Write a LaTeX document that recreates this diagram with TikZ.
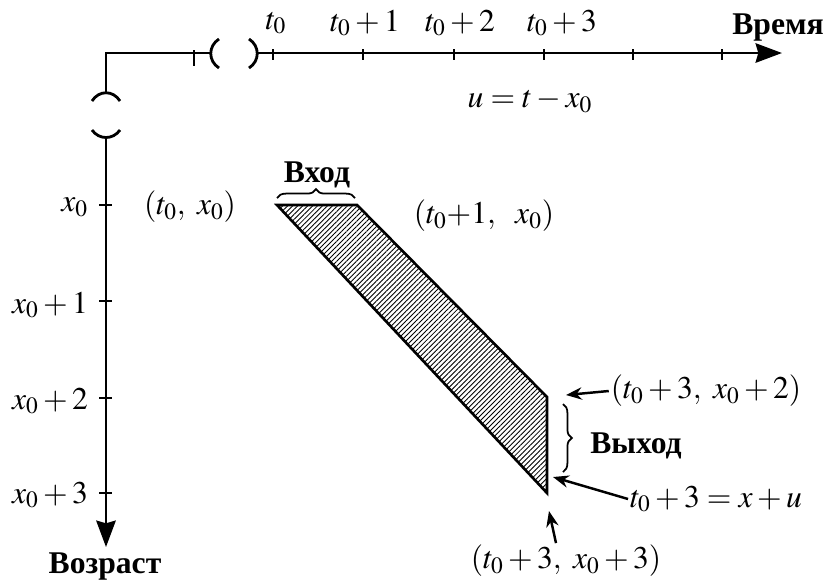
\documentclass[tikz,border=0pt]{standalone}
\usepackage{mathptmx}
\usepackage{fontspec}
\setmainfont{Liberation Serif}
\usetikzlibrary{arrows.meta,patterns.meta,decorations.pathreplacing}
\tikzset{
  axis/.style={line width=1.6pt,-{Stealth[length=15pt,width=11pt,inset=1.5pt]}},
  brk/.style={line width=1.6pt},
  tick/.style={line width=1.2pt},
  lbl/.style={inner sep=1pt},
  word/.style={lbl,font=\fontsize{18}{21}\selectfont\bfseries},
  note/.style={line width=1.4pt,-{Stealth[length=9pt,width=7pt]}},
  brc/.style={line width=1pt,decorate,decoration={brace,amplitude=5pt}},
  band/.style={line width=1.5pt,line join=miter,pattern={Lines[angle=45,distance=2pt,line width=0.5pt]}}
}
\begin{document}
\begin{tikzpicture}[x=0.02cm,y=-0.02cm,font=\fontsize{18}{21}\selectfont]
  \useasboundingbox (0,0) rectangle (825,583);
  % broken axes
  \coordinate (corner) at (106,53);
  \coordinate (tbrk) at (212,53);
  \coordinate (xbrk) at (106,93);
  \coordinate (tstart) at (257,53);
  \coordinate (tend) at (782,53);
  \coordinate (xstart) at (106,136);
  \coordinate (xend) at (106,547);
  \draw[brk] (xbrk) -- (corner) -- (tbrk);
  \draw[tick] (194,50) -- (194,66);
  \draw[brk] (219,39) .. controls (208,46) and (208,61) .. (219,68);
  \draw[brk] (249,39) .. controls (260,46) and (260,61) .. (249,68);
  \draw[brk] (92,101) .. controls (99,90) and (113,90) .. (120,101);
  \draw[brk] (92,130) .. controls (99,140) and (113,140) .. (120,130);
  \draw[axis] (tstart) -- (tend);
  \draw[axis] (xstart) -- (xend);
  \foreach \tx in {273,363,454,544,633,722}
    \draw[tick] (\tx,49) -- (\tx,60);
  \foreach \ay in {205,301,398,493}
    \draw[tick] (99,\ay) -- (112,\ay);
  % axis labels
  \node[lbl] (t0) at (276,23) {$t_0$};
  \node[lbl] (t1) at (365,23) {$t_0+1$};
  \node[lbl] (t2) at (460,23) {$t_0+2$};
  \node[lbl] (t3) at (562,23) {$t_0+3$};
  \node[word] (time) at (778,28) {Время};
  \node[lbl,anchor=east] (x0) at (90,207) {$x_0$};
  \node[lbl,anchor=east] (x1) at (90,305) {$x_0+1$};
  \node[lbl,anchor=east] (x2) at (90,401) {$x_0+2$};
  \node[lbl,anchor=east] (x3) at (90,495) {$x_0+3$};
  \node[word] (age) at (105,566) {Возраст};
  \node[lbl] (ueq) at (530,101) {$u=t-x_0$};
  % cohort band
  \coordinate (p1) at (277,205);
  \coordinate (p2) at (357,205);
  \coordinate (p3) at (547,397);
  \coordinate (p4) at (547,493);
  \draw[band] (p1) -- (p2) -- (p3) -- (p4) -- cycle;
  \draw[brc] (277,198) -- (355,198);
  \node[word] (in) at (317,175) {Вход};
  \draw[brc] (563,404) -- (563,472);
  \node[word] (out) at (636,446) {Выход};
  \node[lbl] (pa) at (190,207) {$(t_0,\ x_0)$};
  \node[lbl] (pb) at (484,216) {$(t_0{+}1,\ \ x_0)$};
  % annotations
  \coordinate (tipb) at (566,395);
  \coordinate (tipd) at (553,477);
  \coordinate (tipe) at (549,511);
  \node[lbl] (pc) at (706,391) {$(t_0+3,\ x_0+2)$};
  \node[lbl] (eq) at (716,499) {$t_0+3=x+u$};
  \node[lbl] (pd) at (566,561) {$(t_0+3,\ x_0+3)$};
  \draw[note] (pc.west) -- (tipb);
  \draw[note] (eq.west) -- (tipd);
  \draw[note] ([xshift=-0.2cm]pd.north) -- (tipe);
\end{tikzpicture}
\end{document}
